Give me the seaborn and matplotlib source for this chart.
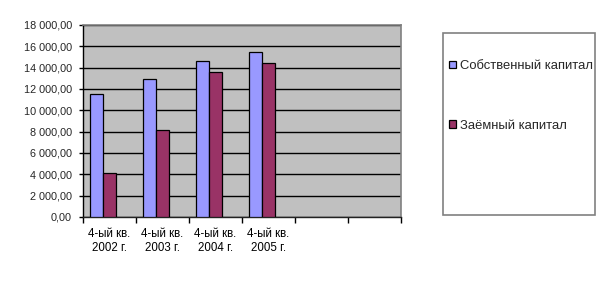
import matplotlib
matplotlib.use("Agg")
import matplotlib.pyplot as plt
from matplotlib.ticker import FuncFormatter, FixedLocator
from matplotlib.patches import Rectangle, Patch
import seaborn as sns
import pandas as pd
import numpy as np

categories = ["4-ый кв.\n2002 г.", "4-ый кв.\n2003 г.", "4-ый кв.\n2004 г.", "4-ый кв.\n2005 г."]
series_names = ["Собственный капитал", "Заёмный капитал"]
own_capital = [11550, 12950, 14600, 15450]
borrowed_capital = [4100, 8150, 13600, 14400]
colors = ["#9999FF", "#993366"]
# the source chart reserves a third (empty) bar slot in each group
empty_slot = " "

rows = []
for c, a, b in zip(categories, own_capital, borrowed_capital):
    rows.append({"cat": c, "series": series_names[0], "value": a})
    rows.append({"cat": c, "series": series_names[1], "value": b})
    rows.append({"cat": c, "series": empty_slot, "value": np.nan})
df = pd.DataFrame(rows)

sns.set_theme(style="white")
plt.rcParams["font.family"] = ["Liberation Sans", "DejaVu Sans"]

fig = plt.figure(figsize=(6.07, 2.96), dpi=100)
ax = fig.add_axes([83/607, 1-217/296, (401-83)/607, (217-25)/296])
ax.set_facecolor("#C0C0C0")

sns.barplot(data=df, x="cat", y="value", hue="series", order=categories,
            hue_order=series_names + [empty_slot], palette=colors + ["#C0C0C0"],
            width=0.75, gap=0, edgecolor="black", linewidth=0.9, saturation=1,
            ax=ax, legend=False, zorder=3)

ax.set_xlim(-0.5, 5.5)
ax.set_ylim(0, 18000)
ax.set_yticks(range(0, 18001, 2000))
ax.yaxis.set_major_formatter(FuncFormatter(lambda v, p: f"{v:,.2f}".replace(",", " ").replace(".", ",")))
ax.grid(axis="y", color="black", linewidth=1, zorder=1)
ax.set_axisbelow(True)
ax.set_xlabel("")
ax.set_ylabel("")

ax.xaxis.set_minor_locator(FixedLocator([i - 0.5 for i in range(7)]))
ax.tick_params(axis="x", which="major", length=0, labelsize=8.3, pad=8, colors="black")
ax.tick_params(axis="x", which="minor", length=4, width=1, direction="out", color="black", bottom=True)
ax.tick_params(axis="y", which="major", length=3, width=1, direction="out", color="black", labelsize=7.8, pad=5, left=True)
for lbl in ax.get_xticklabels():
    lbl.set_linespacing(1.25)

ax.spines["left"].set_color("black")
ax.spines["left"].set_linewidth(1)
ax.spines["bottom"].set_color("#222222")
ax.spines["bottom"].set_linewidth(1)
ax.spines["top"].set_color("#808080")
ax.spines["top"].set_linewidth(1.2)
ax.spines["right"].set_color("#808080")
ax.spines["right"].set_linewidth(1.2)

# legend frame
fig.patches.append(Rectangle((443/607, 1-215/296), (595-443)/607, (215-33)/296,
                             transform=fig.transFigure, facecolor="white",
                             edgecolor="#808080", linewidth=1.2, zorder=0))
handles = [Patch(facecolor=colors[i], edgecolor="black", linewidth=0.9, label=series_names[i]) for i in range(2)]
fig.legend(handles=handles, loc="upper left", bbox_to_anchor=(449/607, 1-60/296),
           frameon=False, fontsize=9.4, handlelength=0.5, handleheight=0.5,
           handletextpad=0.35, labelspacing=3.65, borderpad=0, borderaxespad=0)

fig.savefig("out.png", dpi=100)
